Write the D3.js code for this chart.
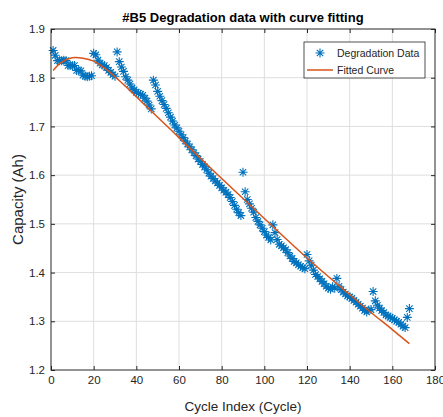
<!DOCTYPE html>
<html lang="en">
<head>
<meta charset="UTF-8">
<script src="https://cdn.jsdelivr.net/npm/d3@7"></script>
<title>B5 degradation</title>
<style>
    body { margin: 0; background: #fff; }
    svg { display: block; font-family: "Liberation Sans", Arial, sans-serif; }
    .grid line { stroke: #dedede; stroke-width: 1; }
    .tick-label { fill: #262626; font-size: 11.5px; }
</style>
</head>
<body>
<script>
    /*------------------- data -----------------------------------------*/
    // measured capacity (Ah) for cycles 1..168
    const capacity = [
        1.856, 1.846, 1.835, 1.835, 1.835, 1.836, 1.835, 1.825, 1.825, 1.825,
        1.825, 1.815, 1.815, 1.814, 1.805, 1.803, 1.802, 1.803, 1.804,
        1.850, 1.847, 1.836, 1.830, 1.826, 1.825, 1.821, 1.815, 1.811, 1.806, 1.803,
        1.853, 1.833, 1.822, 1.813, 1.802, 1.795, 1.787, 1.779, 1.775, 1.770,
        1.768, 1.766, 1.764, 1.758, 1.752, 1.744, 1.736,
        1.795, 1.785, 1.772, 1.762, 1.753, 1.745, 1.737, 1.728, 1.719, 1.711,
        1.703, 1.697, 1.690, 1.683, 1.677, 1.670, 1.664, 1.658, 1.652, 1.646,
        1.640, 1.633, 1.628, 1.622, 1.617, 1.611, 1.604, 1.598, 1.593, 1.588,
        1.584, 1.579, 1.574, 1.569, 1.565, 1.560, 1.554, 1.546, 1.538, 1.530,
        1.523, 1.517,
        1.606, 1.566, 1.550, 1.541, 1.532, 1.524, 1.513, 1.505, 1.498, 1.491,
        1.484, 1.477, 1.472, 1.467, 1.498, 1.482, 1.468, 1.458, 1.455, 1.451,
        1.447, 1.441, 1.434, 1.429, 1.423, 1.420, 1.416, 1.413, 1.410, 1.408,
        1.437, 1.424, 1.415, 1.405, 1.396, 1.392, 1.387, 1.382, 1.377, 1.372,
        1.368, 1.366, 1.371, 1.368, 1.388, 1.372, 1.365, 1.360, 1.356, 1.352,
        1.350, 1.347, 1.343, 1.339, 1.335, 1.331, 1.327, 1.322, 1.319, 1.323,
        1.324, 1.361, 1.342, 1.333, 1.327, 1.322, 1.318, 1.313, 1.311, 1.308,
        1.306, 1.303, 1.300, 1.298, 1.294, 1.290, 1.287, 1.308, 1.326
    ];
    const cycles = d3.range(1, capacity.length + 1);

    // fitted curve
    const fitCycles = [1, 5, 10, 15, 20, 25, 30, 35, 40, 45, 50, 60, 70, 80, 90,
        100, 110, 120, 130, 140, 150, 160, 168];
    const fitCapacity = [1.815, 1.832, 1.841, 1.840, 1.834, 1.820, 1.802, 1.782,
        1.761, 1.740, 1.719, 1.677, 1.635, 1.593, 1.552, 1.511, 1.470, 1.430,
        1.392, 1.355, 1.318, 1.283, 1.254];

    const xTicks = [0, 20, 40, 60, 80, 100, 120, 140, 160, 180];
    const yTicks = [1.2, 1.3, 1.4, 1.5, 1.6, 1.7, 1.8, 1.9];
    const legendLabels = ["Degradation Data", "Fitted Curve"];

    const titleText = "#B5 Degradation data with curve fitting";
    const xLabelText = "Cycle Index (Cycle)";
    const yLabelText = "Capacity (Ah)";

    /*------------------- layout --------------------*/
    const W = 443, H = 417;
    const margin = {left: 51, right: 8, top: 29, bottom: 47};
    const blue = "#0072bd", orange = "#d95319", axisColor = "#262626";

    const x = d3.scaleLinear().domain([0, 180]).range([margin.left, W - margin.right]);
    const y = d3.scaleLinear().domain([1.2, 1.9]).range([H - margin.bottom, margin.top]);

    const svg = d3.select("body").append("svg")
        .attr("width", W)
        .attr("height", H);

    svg.append("rect").attr("width", W).attr("height", H).attr("fill", "#fff");

    // grid
    const grid = svg.append("g").attr("class", "grid");
    grid.selectAll(".gx").data(xTicks.slice(1, -1)).enter().append("line")
        .attr("x1", d => x(d)).attr("x2", d => x(d))
        .attr("y1", y(1.2)).attr("y2", y(1.9));
    grid.selectAll(".gy").data(yTicks.slice(1, -1)).enter().append("line")
        .attr("x1", x(0)).attr("x2", x(180))
        .attr("y1", d => y(d)).attr("y2", d => y(d));

    /*------------------- axes (box with inward ticks) --------------------*/
    const tickLen = 4;
    svg.append("g")
        .attr("transform", `translate(0,${y(1.2)})`)
        .call(d3.axisBottom(x).tickValues(xTicks).tickSizeInner(-tickLen).tickSizeOuter(0).tickPadding(6))
        .call(g => g.select(".domain").remove());
    svg.append("g")
        .attr("transform", `translate(0,${y(1.9)})`)
        .call(d3.axisTop(x).tickValues(xTicks).tickSizeInner(-tickLen).tickSizeOuter(0).tickFormat(""))
        .call(g => g.select(".domain").remove());
    svg.append("g")
        .attr("transform", `translate(${x(0)},0)`)
        .call(d3.axisLeft(y).tickValues(yTicks).tickSizeInner(-tickLen).tickSizeOuter(0).tickPadding(6).tickFormat(d3.format(".1f")))
        .call(g => g.select(".domain").remove());
    svg.append("g")
        .attr("transform", `translate(${x(180)},0)`)
        .call(d3.axisRight(y).tickValues(yTicks).tickSizeInner(-tickLen).tickSizeOuter(0).tickFormat(""))
        .call(g => g.select(".domain").remove());

    svg.selectAll(".tick line").attr("stroke", axisColor);
    svg.selectAll(".tick text")
        .attr("class", "tick-label")
        .attr("font-family", null)
        .attr("font-size", null)
        .attr("fill", axisColor);

    /*------------------- marks --------------------*/
    const plot = svg.append("g");
    svg.append("clipPath").attr("id", "clip")
        .append("rect")
        .attr("x", x(0)).attr("y", y(1.9))
        .attr("width", x(180) - x(0)).attr("height", y(1.2) - y(1.9));

    // asterisk marker like matlab '*'
    const r = 4.5, d45 = r * 0.707;
    const star = `M0,${-r}V${r}M${-r},0H${r}M${-d45},${-d45}L${d45},${d45}M${-d45},${d45}L${d45},${-d45}`;

    plot.selectAll("path.pt")
        .data(cycles)
        .enter()
        .append("path")
        .attr("class", "pt")
        .attr("d", star)
        .attr("transform", (c, i) => `translate(${x(c)},${y(capacity[i])})`)
        .attr("stroke", blue)
        .attr("stroke-width", 1.1)
        .attr("fill", "none");

    const fitLine = d3.line()
        .x((c) => x(c))
        .y((c, i) => y(fitCapacity[i]))
        .curve(d3.curveCatmullRom);

    plot.append("path")
        .attr("d", fitLine(fitCycles))
        .attr("fill", "none")
        .attr("stroke", orange)
        .attr("stroke-width", 1.5)
        .attr("clip-path", "url(#clip)");

    // box
    svg.append("rect")
        .attr("x", x(0)).attr("y", y(1.9))
        .attr("width", x(180) - x(0)).attr("height", y(1.2) - y(1.9))
        .attr("fill", "none")
        .attr("stroke", axisColor)
        .attr("stroke-width", 1);

    /*------------------- legend --------------------*/
    const legend = svg.append("g").attr("transform", "translate(304,42)");
    legend.append("rect")
        .attr("width", 121).attr("height", 36)
        .attr("fill", "#fff")
        .attr("stroke", axisColor)
        .attr("stroke-width", 0.8);
    legend.append("path")
        .attr("d", star)
        .attr("transform", "translate(16,11)")
        .attr("stroke", blue)
        .attr("stroke-width", 1.1)
        .attr("fill", "none");
    legend.append("line")
        .attr("x1", 3).attr("x2", 29)
        .attr("y1", 28).attr("y2", 28)
        .attr("stroke", orange)
        .attr("stroke-width", 1.5);
    legend.selectAll("text")
        .data(legendLabels)
        .enter()
        .append("text")
        .attr("x", 33)
        .attr("y", (d, i) => 15 + i * 17)
        .attr("font-size", 10.5)
        .attr("fill", axisColor)
        .text(d => d);

    /*------------------- titles --------------------*/
    svg.append("text")
        .attr("x", (x(0) + x(180)) / 2)
        .attr("y", 22)
        .attr("text-anchor", "middle")
        .attr("font-weight", "bold")
        .attr("font-size", 13)
        .attr("fill", "#000")
        .text(titleText);

    svg.append("text")
        .attr("x", (x(0) + x(180)) / 2)
        .attr("y", 411)
        .attr("text-anchor", "middle")
        .attr("font-size", 13.5)
        .attr("fill", axisColor)
        .text(xLabelText);

    svg.append("text")
        .attr("transform", `translate(23,${(y(1.2) + y(1.9)) / 2}) rotate(-90)`)
        .attr("text-anchor", "middle")
        .attr("font-size", 15)
        .attr("fill", axisColor)
        .text(yLabelText);
</script>
</body>
</html>
